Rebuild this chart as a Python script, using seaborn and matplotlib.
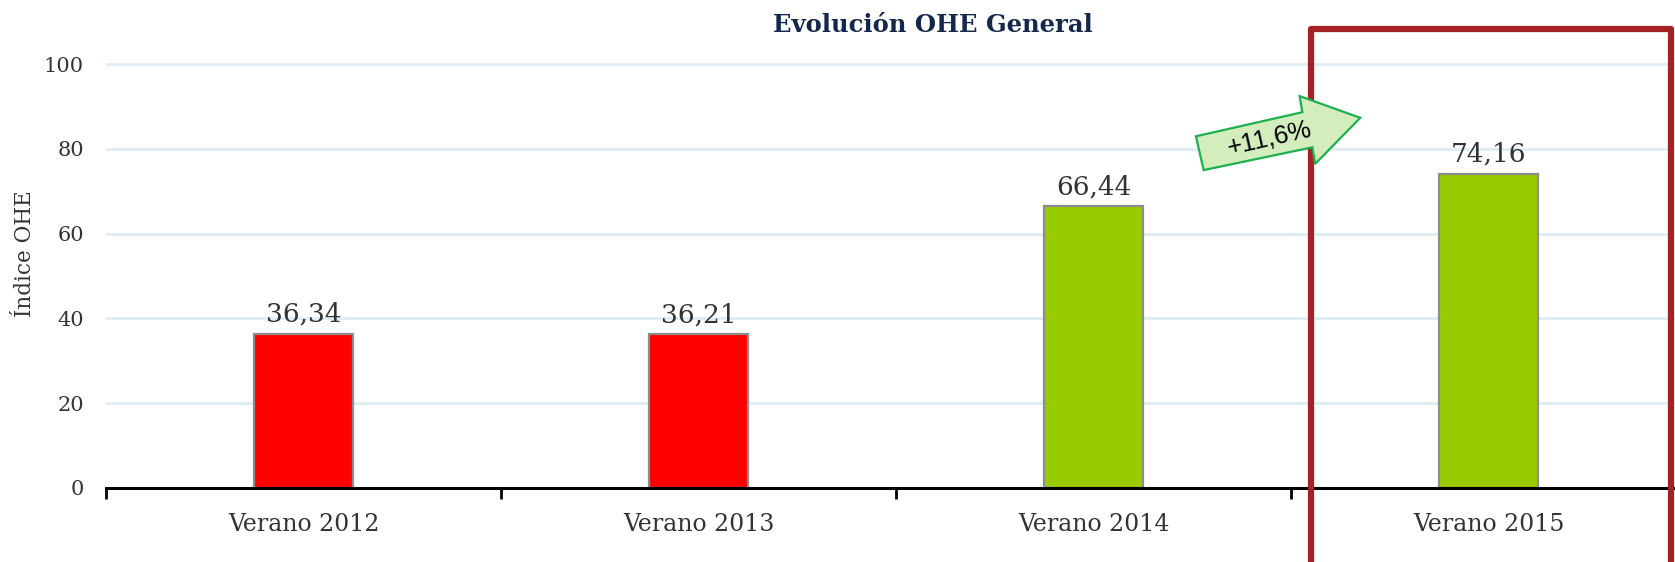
import matplotlib
matplotlib.use("Agg")
import matplotlib.pyplot as plt
import seaborn as sns
import pandas as pd
from matplotlib.patches import Polygon, Rectangle

categories = ["Verano 2012", "Verano 2013", "Verano 2014", "Verano 2015"]
values = [36.34, 36.21, 66.44, 74.16]
bar_colors = ["#FF0000", "#FF0000", "#99CC00", "#99CC00"]
y_ticks = [0, 20, 40, 60, 80, 100]
change_label = "+11,6%"

sns.set_theme(style="white")
plt.rcParams["font.family"] = ["DejaVu Serif"]

df = pd.DataFrame({"periodo": categories, "ohe": values})

fig = plt.figure(figsize=(16.75, 5.62), dpi=100)
ax = fig.add_axes([0.0633, 0.1317, 0.9433, 0.7695])

sns.barplot(data=df, x="periodo", y="ohe", hue="periodo", palette=bar_colors,
            legend=False, width=0.25, edgecolor="#8C8C8C", linewidth=1.6,
            saturation=1, ax=ax, zorder=3)

ax.set_xlim(-0.5, 3.5)
ax.set_ylim(0, 102)
ax.set_yticks(y_ticks)
ax.set_yticklabels([str(v) for v in y_ticks], color="#333333", fontsize=15)
ax.yaxis.grid(True, color="#DCEEF4", linewidth=2)
ax.set_axisbelow(True)
ax.tick_params(axis="y", length=0, pad=16)

# category labels centred, tick marks on the category boundaries
ax.set_xticks(range(len(categories)))
ax.set_xticklabels(categories, fontsize=17, color="#333333")
ax.tick_params(axis="x", which="major", length=0, pad=18)
ax.set_xticks([i - 0.5 for i in range(len(categories) + 1)], minor=True)
ax.tick_params(axis="x", which="minor", length=8, width=2, color="black",
               direction="out", bottom=True)

for side in ["top", "right", "left"]:
    ax.spines[side].set_visible(False)
ax.spines["bottom"].set_color("black")
ax.spines["bottom"].set_linewidth(2.2)
ax.spines["bottom"].set_zorder(4)

ax.set_xlabel("")
ax.set_ylabel("Índice OHE", fontsize=15.5, color="#333333")
ax.yaxis.set_label_coords(-0.0443, 0.543)

for i, v in enumerate(values):
    ax.annotate(f"{v:.2f}".replace(".", ","), (i, v), xytext=(0, 5),
                textcoords="offset points", ha="center", va="bottom",
                fontsize=19, color="#333333")

fig.text(0.557, 0.955, "Evolución OHE General", ha="center", va="center",
         fontsize=17.5, fontweight="bold", color="#14284B")

# highlight frame around the latest season
ax.add_patch(Rectangle((2.551, -40), 0.911, 148.3, fill=False,
                       edgecolor="#A52224", linewidth=4.5, clip_on=False,
                       zorder=6, joinstyle="round"))

# growth arrow
arrow_pts = [(2.2592, 82.95), (2.5286, 88.63), (2.5218, 92.43), (2.6752, 87.31),
             (2.5608, 76.42), (2.5542, 80.35), (2.2787, 74.98)]
ax.add_patch(Polygon(arrow_pts, closed=True, facecolor="#D3EDBC",
                     edgecolor="#1CB04E", linewidth=1.6, clip_on=False, zorder=7))
ax.text(2.4443, 82.6, change_label, ha="center", va="center", rotation=12.8,
        fontsize=18.5, family=["Liberation Sans"], color="black", zorder=8)

fig.savefig("out.png", dpi=100)
